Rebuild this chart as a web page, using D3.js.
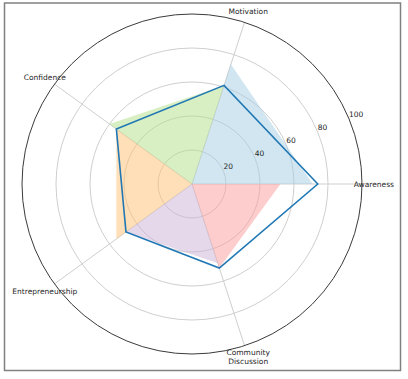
<!DOCTYPE html>
<html><head><meta charset="utf-8">
<script src="https://cdn.jsdelivr.net/npm/d3@7"></script>
<style>body{margin:0;background:#fff}svg{display:block}</style>
</head><body>
<script>
const categories = ["Awareness", "Motivation", "Confidence", "Entrepreneurship", "Community\nDiscussion"];
const values = [74, 61, 55, 48, 52];
const sectorStart = [71, 61, 55, 48, 52];
const sectorEnd = [74, 60, 55, 49, 52];
const sectorColors = ["#a6cee3", "#b2df8a", "#fdbf6f", "#cab2d6", "#fb9a99"];
const rTicks = [20, 40, 60, 80, 100];

const W = 408, H = 379, cx = 192, cy = 184, R = 170;
const svg = d3.select("body").append("svg").attr("width", W).attr("height", H);
const r = d3.scaleLinear().domain([0, 100]).range([0, R]);
const ang = d3.scaleLinear().domain([0, categories.length]).range([0, 2 * Math.PI]);
const pt = (i, v) => [cx + r(v) * Math.cos(ang(i)), cy - r(v) * Math.sin(ang(i))];

svg.append("rect").attr("x", 4.5).attr("y", 3).attr("width", 396).attr("height", 367.5)
  .attr("fill", "none").attr("stroke", "#808080").attr("stroke-width", 1.5);

const g = svg.append("g");
// grid circles
g.selectAll("circle.grid").data(rTicks.slice(0, -1)).join("circle")
  .attr("cx", cx).attr("cy", cy).attr("r", d => r(d))
  .attr("fill", "none").attr("stroke", "#cfcfcf").attr("stroke-width", 1);
// spokes
g.selectAll("line.spoke").data(categories).join("line")
  .attr("x1", cx).attr("y1", cy)
  .attr("x2", (d, i) => pt(i, 100)[0]).attr("y2", (d, i) => pt(i, 100)[1])
  .attr("stroke", "#cfcfcf").attr("stroke-width", 1);

// sectors
g.selectAll("path.sector").data(categories).join("path")
  .attr("d", (d, i) => {
    const a = pt(i, sectorStart[i]), b = pt(i + 1, sectorEnd[i]);
    return `M${cx},${cy}L${a[0]},${a[1]}L${b[0]},${b[1]}Z`;
  })
  .attr("fill", (d, i) => sectorColors[i]).attr("fill-opacity", 0.5);

// outer circle
g.append("circle").attr("cx", cx).attr("cy", cy).attr("r", r(100))
  .attr("fill", "none").attr("stroke", "#3a3a3a").attr("stroke-width", 1);

// value line
const line = d3.line().x(d => d[0]).y(d => d[1]).curve(d3.curveLinearClosed);
g.append("path").attr("d", line(values.map((v, i) => pt(i, v))))
  .attr("fill", "none").attr("stroke", "#1f77b4").attr("stroke-width", 1.6)
  .attr("stroke-linejoin", "miter");

// r tick labels
const ra = 22.5 * Math.PI / 180;
g.selectAll("text.rt").data(rTicks).join("text")
  .attr("x", d => cx + r(d) * Math.cos(ra))
  .attr("y", d => cy - r(d) * Math.sin(ra) - 1.8)
  .attr("font-family", "DejaVu Sans").attr("font-size", 7.5).attr("fill", "#262626")
  .text(d => d);

// category labels
const lab = g.selectAll("text.cat").data(categories).join("text")
  .attr("font-family", "DejaVu Sans").attr("font-size", 7.5).attr("fill", "#262626")
  .attr("text-anchor", "middle");
lab.each(function(d, i) {
  const lines = d.split("\n");
  const [x, y] = pt(i, 107);
  const lh = 9;
  const t = d3.select(this);
  lines.forEach((s, k) => {
    t.append("tspan").attr("x", x)
      .attr("y", y + (k - (lines.length - 1) / 2) * lh + 2.7)
      .text(s);
  });
});
</script>
</body></html>
